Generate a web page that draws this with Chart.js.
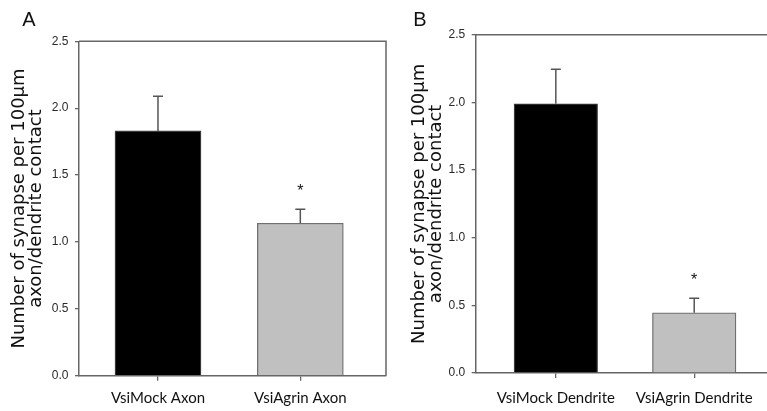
<!DOCTYPE html>
<html>
<head>
<meta charset="utf-8">
<script src="https://cdn.jsdelivr.net/npm/chart.js@4.4.1/dist/chart.umd.min.js"></script>
<style>
  body { margin: 0; background: #fff; overflow: hidden; }
  canvas { position: absolute; top: 0; }
</style>
</head>
<body>
<canvas id="chartA" width="392" height="411" style="left:0px"></canvas>
<canvas id="chartB" width="375" height="411" style="left:392px"></canvas>
<script>
// values
var categoriesA = ["VsiMock Axon", "VsiAgrin Axon"];
var meansA = [1.83, 1.14];
var errorsA = [0.26, 0.105];
var marksA = ["", "*"];

var categoriesB = ["VsiMock Dendrite", "VsiAgrin Dendrite"];
var meansB = [1.99, 0.445];
var errorsB = [0.255, 0.107];
var marksB = ["", "*"];

var yTicks = [0, 0.5, 1.0, 1.5, 2.0, 2.5];
var yTitle = ["Number of synapse per 100\u00b5m", "axon/dendrite contact"];
var barColors = ["#000000", "#c0c0c0"];
var barBorders = ["#3a3a3a", "#707070"];

var axisColor = "#666666";
var labelFont = "'Lato', sans-serif";

// error bars + significance stars
var errorBarPlugin = {
  id: "errorBars",
  afterDatasetsDraw: function(chart, args, opts) {
    var ctx = chart.ctx;
    var y = chart.scales.y;
    var bars = chart.getDatasetMeta(0).data;
    ctx.save();
    ctx.strokeStyle = "#555";
    ctx.lineWidth = 1.5;
    bars.forEach(function(bar, i) {
      var y0 = y.getPixelForValue(opts.means[i]);
      var y1 = y.getPixelForValue(opts.means[i] + opts.errors[i]);
      ctx.beginPath();
      ctx.moveTo(bar.x, y0);
      ctx.lineTo(bar.x, y1);
      ctx.moveTo(bar.x - 5, y1);
      ctx.lineTo(bar.x + 5, y1);
      ctx.stroke();
      if (opts.marks[i]) {
        ctx.fillStyle = "#111";
        ctx.font = "16px 'Liberation Sans', Arial, sans-serif";
        ctx.textAlign = "center";
        ctx.textBaseline = "alphabetic";
        ctx.fillText(opts.marks[i], bar.x, y1 - 22.5 + 9.2);
      }
    });
    ctx.restore();
  }
};

// top / right frame lines and the panel letter
var framePlugin = {
  id: "frame",
  afterDraw: function(chart, args, opts) {
    var ctx = chart.ctx;
    var a = chart.chartArea;
    ctx.save();
    ctx.strokeStyle = axisColor;
    ctx.lineWidth = 1.5;
    ctx.beginPath();
    ctx.moveTo(a.left, a.top);
    ctx.lineTo(opts.right ? a.right : chart.width, a.top);
    if (opts.right) ctx.lineTo(a.right, a.bottom);
    ctx.stroke();
    ctx.fillStyle = "#111";
    ctx.font = "20px 'Liberation Sans', Arial, sans-serif";
    ctx.textAlign = "center";
    ctx.textBaseline = "alphabetic";
    ctx.fillText(opts.letter, opts.letterX, 26);
    ctx.restore();
  }
};

function makePanel(id, p) {
  var data = p.means.map(function(v, i) { return { x: i + 1, y: v }; });
  return new Chart(document.getElementById(id), {
    type: "bar",
    data: {
      datasets: [{
        data: data,
        backgroundColor: barColors,
        borderColor: barBorders,
        borderWidth: 1.3,
        barThickness: p.barWidth
      }]
    },
    options: {
      responsive: false,
      animation: false,
      layout: { padding: { top: p.top, left: p.left, right: p.right, bottom: 0 } },
      plugins: {
        legend: { display: false },
        tooltip: { enabled: false },
        errorBars: { means: p.means, errors: p.errors, marks: p.marks },
        frame: { right: p.frameRight, letter: p.letter, letterX: p.letterX }
      },
      scales: {
        x: {
          type: "linear",
          offset: false,
          min: p.xMin,
          max: p.xMax,
          afterBuildTicks: function(s) {
            s.ticks = p.categories.map(function(c, i) { return { value: i + 1 }; });
          },
          afterFit: function(s) { s.height = p.xHeight; },
          grid: { offset: false, drawOnChartArea: false, tickLength: 5, color: axisColor, lineWidth: 1.3 },
          border: { color: axisColor, width: 1.5 },
          ticks: {
            autoSkip: false,
            maxRotation: 0,
            padding: p.xPad,
            color: "#111",
            font: { family: labelFont, size: 15 },
            callback: function(v) { return p.categories[Math.round(v) - 1]; }
          }
        },
        y: {
          min: 0,
          max: 2.5,
          afterBuildTicks: function(s) {
            s.ticks = yTicks.map(function(v) { return { value: v }; });
          },
          afterFit: function(s) { s.width = p.yWidth; },
          grid: { drawOnChartArea: false, tickLength: 4, color: axisColor, lineWidth: 1.3 },
          border: { color: axisColor, width: 1.5 },
          ticks: {
            padding: 6.5,
            color: "#2a2a2a",
            font: { family: "'Liberation Sans', Arial, sans-serif", size: 12 },
            callback: function(v) { return v.toFixed(1); }
          },
          title: {
            display: true,
            text: yTitle,
            color: "#111",
            padding: { top: 10.5, bottom: 0 },
            font: { family: "'DejaVu Sans', sans-serif", size: 18, lineHeight: "17px" }
          }
        }
      }
    },
    plugins: [errorBarPlugin, framePlugin]
  });
}

makePanel("chartA", {
  categories: categoriesA, means: meansA, errors: errorsA, marks: marksA,
  top: 41.3, left: 0, right: 6, yWidth: 79, xHeight: 35.3, xPad: 8.6,
  xMin: 0.445, xMax: 2.602, barWidth: 86,
  frameRight: true, letter: "A", letterX: 29
});

makePanel("chartB", {
  categories: categoriesB, means: meansB, errors: errorsB, marks: marksB,
  top: 34.7, left: 8, right: 0, yWidth: 75.7, xHeight: 38, xPad: 11.5,
  xMin: 0.421, xMax: 2.526, barWidth: 83.5,
  frameRight: false, letter: "B", letterX: 28
});
</script>
</body>
</html>
